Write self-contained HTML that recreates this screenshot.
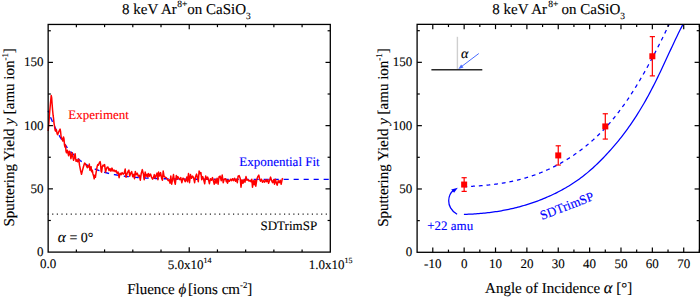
<!DOCTYPE html>
<html><head><meta charset="utf-8"><style>
html,body{margin:0;padding:0;background:#fff;}
svg{display:block;font-family:"Liberation Serif",serif;text-rendering:geometricPrecision;}
text{stroke-width:0.12px;}
</style></head><body>
<svg width="700" height="297" viewBox="0 0 700 297">
<rect width="700" height="297" fill="#fff"/>
<line x1="47.5" y1="214.16" x2="327" y2="214.16" stroke="#222" stroke-width="1.2" stroke-dasharray="1.2 3.437"/>
<path d="M48.15,110.83 L48.65,112.2 L49.15,113.54 L49.65,114.85 L50.15,116.14 L50.65,117.4 L51.15,118.63 L51.65,119.84 L52.15,121.03 L52.65,122.19 L53.15,123.33 L53.65,124.45 L54.15,125.55 L54.65,126.62 L55.15,127.67 L55.65,128.7 L56.15,129.71 L56.65,130.7 L57.15,131.67 L57.65,132.62 L58.15,133.56 L58.65,134.47 L59.15,135.36 L59.65,136.24 L60.15,137.1 L60.65,137.94 L61.15,138.77 L61.65,139.58 L62.15,140.37 L62.65,141.15 L63.15,141.91 L63.65,142.66 L64.15,143.39 L64.65,144.11 L65.15,144.81 L65.65,145.5 L66.15,146.18 L66.65,146.84 L67.15,147.49 L67.65,148.12 L68.15,148.75 L68.65,149.36 L69.15,149.96 L69.65,150.54 L70.15,151.12 L70.65,151.68 L71.15,152.23 L71.65,152.77 L72.15,153.3 L72.65,153.82 L73.15,154.33 L73.65,154.83 L74.15,155.32 L74.65,155.8 L75.15,156.27 L75.65,156.73 L76.15,157.18 L76.65,157.63 L77.15,158.06 L77.65,158.49 L78.15,158.9 L78.65,159.31 L79.15,159.71 L79.65,160.1 L80.15,160.49 L80.65,160.86 L81.15,161.23 L81.65,161.59 L82.15,161.95 L82.65,162.3 L83.15,162.64 L83.65,162.97 L84.15,163.3 L84.65,163.62 L85.15,163.93 L85.65,164.24 L86.15,164.54 L86.65,164.84 L87.15,165.13 L87.65,165.41 L88.15,165.69 L88.65,165.96 L89.15,166.23 L89.65,166.49 L90.15,166.75 L90.65,167 L91.15,167.25 L91.65,167.49 L92.15,167.73 L92.65,167.96 L93.15,168.19 L93.65,168.41 L94.15,168.63 L94.65,168.84 L95.15,169.05 L95.65,169.26 L96.15,169.46 L96.65,169.66 L97.15,169.85 L97.65,170.04 L98.15,170.23 L98.65,170.41 L99.15,170.59 L99.65,170.76 L100.15,170.94 L100.65,171.1 L101.15,171.27 L101.65,171.43 L102.15,171.59 L102.65,171.75 L103.15,171.9 L103.65,172.05 L104.15,172.19 L104.65,172.34 L105.15,172.48 L105.65,172.61 L106.15,172.75 L106.65,172.88 L107.15,173.01 L107.65,173.14 L108.15,173.26 L108.65,173.38 L109.15,173.5 L109.65,173.62 L110.15,173.74 L110.65,173.85 L111.15,173.96 L111.65,174.07 L112.15,174.17 L112.65,174.28 L113.15,174.38 L113.65,174.48 L114.15,174.57 L114.65,174.67 L115.15,174.76 L115.65,174.86 L116.15,174.95 L116.65,175.03 L117.15,175.12 L117.65,175.21 L118.15,175.29 L118.65,175.37 L119.15,175.45 L119.65,175.53 L120.15,175.61 L120.65,175.68 L121.15,175.75 L121.65,175.83 L122.15,175.9 L122.65,175.97 L123.15,176.04 L123.65,176.1 L124.15,176.17 L124.65,176.23 L125.15,176.29 L125.65,176.36 L126.15,176.42 L126.65,176.47 L127.15,176.53 L127.65,176.59 L128.15,176.65 L128.65,176.7 L129.15,176.75 L129.65,176.81 L130.15,176.86 L130.65,176.91 L131.15,176.96 L131.65,177 L132.15,177.05 L132.65,177.1 L133.15,177.14 L133.65,177.19 L134.15,177.23 L134.65,177.27 L135.15,177.32 L135.65,177.36 L136.15,177.4 L136.65,177.44 L137.15,177.48 L137.65,177.51 L138.15,177.55 L138.65,177.59 L139.15,177.62 L139.65,177.66 L140.15,177.69 L140.65,177.73 L141.15,177.76 L141.65,177.79 L142.15,177.82 L142.65,177.85 L143.15,177.88 L143.65,177.91 L144.15,177.94 L144.65,177.97 L145.15,178 L145.65,178.03 L146.15,178.05 L146.65,178.08 L147.15,178.11 L147.65,178.13 L148.15,178.16 L148.65,178.18 L149.15,178.21 L149.65,178.23 L150.15,178.25 L150.65,178.27 L151.15,178.3 L151.65,178.32 L152.15,178.34 L152.65,178.36 L153.15,178.38 L153.65,178.4 L154.15,178.42 L154.65,178.44 L155.15,178.46 L155.65,178.48 L156.15,178.49 L156.65,178.51 L157.15,178.53 L157.65,178.55 L158.15,178.56 L158.65,178.58 L159.15,178.59 L159.65,178.61 L160.15,178.63 L160.65,178.64 L161.15,178.65 L161.65,178.67 L162.15,178.68 L162.65,178.7 L163.15,178.71 L163.65,178.72 L164.15,178.74 L164.65,178.75 L165.15,178.76 L165.65,178.77 L166.15,178.79 L166.65,178.8 L167.15,178.81 L167.65,178.82 L168.15,178.83 L168.65,178.84 L169.15,178.85 L169.65,178.86 L170.15,178.87 L170.65,178.88 L171.15,178.89 L171.65,178.9 L172.15,178.91 L172.65,178.92 L173.15,178.93 L173.65,178.94 L174.15,178.95 L174.65,178.96 L175.15,178.97 L175.65,178.97 L176.15,178.98 L176.65,178.99 L177.15,179 L177.65,179.01 L178.15,179.01 L178.65,179.02 L179.15,179.03 L179.65,179.04 L180.15,179.04 L180.65,179.05 L181.15,179.06 L181.65,179.06 L182.15,179.07 L182.65,179.07 L183.15,179.08 L183.65,179.09 L184.15,179.09 L184.65,179.1 L185.15,179.1 L185.65,179.11 L186.15,179.11 L186.65,179.12 L187.15,179.12 L187.65,179.13 L188.15,179.13 L188.65,179.14 L189.15,179.14 L189.65,179.15 L190.15,179.15 L190.65,179.16 L191.15,179.16 L191.65,179.17 L192.15,179.17 L192.65,179.18 L193.15,179.18 L193.65,179.18 L194.15,179.19 L194.65,179.19 L195.15,179.19 L195.65,179.2 L196.15,179.2 L196.65,179.21 L197.15,179.21 L197.65,179.21 L198.15,179.22 L198.65,179.22 L199.15,179.22 L199.65,179.22 L200.15,179.23 L200.65,179.23 L201.15,179.23 L201.65,179.24 L202.15,179.24 L202.65,179.24 L203.15,179.25 L203.65,179.25 L204.15,179.25 L204.65,179.25 L205.15,179.26 L205.65,179.26 L206.15,179.26 L206.65,179.26 L207.15,179.27 L207.65,179.27 L208.15,179.27 L208.65,179.27 L209.15,179.27 L209.65,179.28 L210.15,179.28 L210.65,179.28 L211.15,179.28 L211.65,179.28 L212.15,179.29 L212.65,179.29 L213.15,179.29 L213.65,179.29 L214.15,179.29 L214.65,179.29 L215.15,179.3 L215.65,179.3 L216.15,179.3 L216.65,179.3 L217.15,179.3 L217.65,179.3 L218.15,179.31 L218.65,179.31 L219.15,179.31 L219.65,179.31 L220.15,179.31 L220.65,179.31 L221.15,179.31 L221.65,179.32 L222.15,179.32 L222.65,179.32 L223.15,179.32 L223.65,179.32 L224.15,179.32 L224.65,179.32 L225.15,179.32 L225.65,179.32 L226.15,179.33 L226.65,179.33 L227.15,179.33 L227.65,179.33 L228.15,179.33 L228.65,179.33 L229.15,179.33 L229.65,179.33 L230.15,179.33 L230.65,179.33 L231.15,179.34 L231.65,179.34 L232.15,179.34 L232.65,179.34 L233.15,179.34 L233.65,179.34 L234.15,179.34 L234.65,179.34 L235.15,179.34 L235.65,179.34 L236.15,179.34 L236.65,179.34 L237.15,179.34 L237.65,179.35 L238.15,179.35 L238.65,179.35 L239.15,179.35 L239.65,179.35 L240.15,179.35 L240.65,179.35 L241.15,179.35 L241.65,179.35 L242.15,179.35 L242.65,179.35 L243.15,179.35 L243.65,179.35 L244.15,179.35 L244.65,179.35 L245.15,179.35 L245.65,179.35 L246.15,179.35 L246.65,179.36 L247.15,179.36 L247.65,179.36 L248.15,179.36 L248.65,179.36 L249.15,179.36 L249.65,179.36 L250.15,179.36 L250.65,179.36 L251.15,179.36 L251.65,179.36 L252.15,179.36 L252.65,179.36 L253.15,179.36 L253.65,179.36 L254.15,179.36 L254.65,179.36 L255.15,179.36 L255.65,179.36 L256.15,179.36 L256.65,179.36 L257.15,179.36 L257.65,179.36 L258.15,179.36 L258.65,179.36 L259.15,179.36 L259.65,179.36 L260.15,179.37 L260.65,179.37 L261.15,179.37 L261.65,179.37 L262.15,179.37 L262.65,179.37 L263.15,179.37 L263.65,179.37 L264.15,179.37 L264.65,179.37 L265.15,179.37 L265.65,179.37 L266.15,179.37 L266.65,179.37 L267.15,179.37 L267.65,179.37 L268.15,179.37 L268.65,179.37 L269.15,179.37 L269.65,179.37 L270.15,179.37 L270.65,179.37 L271.15,179.37 L271.65,179.37 L272.15,179.37 L272.65,179.37 L273.15,179.37 L273.65,179.37 L274.15,179.37 L274.65,179.37 L275.15,179.37 L275.65,179.37 L276.15,179.37 L276.65,179.37 L277.15,179.37 L277.65,179.37 L278.15,179.37 L278.65,179.37 L279.15,179.37 L279.65,179.37 L280.15,179.37 L280.65,179.37 L281.15,179.37 L281.65,179.37 L282.15,179.37 L282.65,179.37 L283.15,179.37 L283.65,179.37 L284.15,179.37 L284.65,179.37 L285.15,179.37 L285.65,179.37 L286.15,179.37 L286.65,179.37 L287.15,179.37 L287.65,179.37 L288.15,179.37 L288.65,179.37 L289.15,179.37 L289.65,179.37 L290.15,179.37 L290.65,179.37 L291.15,179.37 L291.65,179.37 L292.15,179.37 L292.65,179.37 L293.15,179.37 L293.65,179.37 L294.15,179.38 L294.65,179.38 L295.15,179.38 L295.65,179.38 L296.15,179.38 L296.65,179.38 L297.15,179.38 L297.65,179.38 L298.15,179.38 L298.65,179.38 L299.15,179.38 L299.65,179.38 L300.15,179.38 L300.65,179.38 L301.15,179.38 L301.65,179.38 L302.15,179.38 L302.65,179.38 L303.15,179.38 L303.65,179.38 L304.15,179.38 L304.65,179.38 L305.15,179.38 L305.65,179.38 L306.15,179.38 L306.65,179.38 L307.15,179.38 L307.65,179.38 L308.15,179.38 L308.65,179.38 L309.15,179.38 L309.65,179.38 L310.15,179.38 L310.65,179.38 L311.15,179.38 L311.65,179.38 L312.15,179.38 L312.65,179.38 L313.15,179.38 L313.65,179.38 L314.15,179.38 L314.65,179.38 L315.15,179.38 L315.65,179.38 L316.15,179.38 L316.65,179.38 L317.15,179.38 L317.65,179.38 L318.15,179.38 L318.65,179.38 L319.15,179.38 L319.65,179.38 L320.15,179.38 L320.65,179.38 L321.15,179.38 L321.65,179.38 L322.15,179.38 L322.65,179.38 L323.15,179.38 L323.65,179.38 L324.15,179.38 L324.65,179.38 L325.15,179.38 L325.65,179.38 L326.15,179.38 L326.65,179.38 L327.15,179.38 L327.65,179.38 L328.15,179.38 L328.65,179.38 L329.15,179.38 L329.65,179.38 L330,179.38" fill="none" stroke="#00f" stroke-width="1.35" stroke-dasharray="5.1 4.9" stroke-dashoffset="3.24"/>
<path d="M48.2,131 L49,121 L49.6,113 L50.4,104 L51.2,95.5 L51.7,98 L52.1,104 L52.6,110.2 L53.1,115.2 L53.5,118 L54,123.1 L54.5,126.1 L55.1,130.2 L55.6,131.2 L56.3,129.6 L57.1,133.7 L57.6,134.7 L58.6,132.2 L59.6,130.2 L60.1,129.1 L60.6,131.7 L61.1,136.7 L62.1,139.2 L62.8,141.1 L63.5,137 L64,139 L64.5,145.1 L65,147.1 L65.5,145.1 L66,151.2 L66.5,152.7 L67.3,150.2 L67.9,152.7 L68.6,155.7 L69.3,151.2 L70.1,152.7 L70.9,158.7 L71.6,155.2 L72.3,152.7 L72.9,157.2 L73.6,160.3 L74.3,157.7 L75.1,153.7 L75.6,158.2 L76.1,161.3 L77,159.7 L77.7,161.8 L78.4,160.3 L78.8,159.1 L79.5,165.2 L80.5,170.2 L81.5,174.2 L82.5,170.2 L83.6,166.2 L84.6,163.1 L85.6,164.1 L86.6,166.2 L87.3,167.7 L88.1,165.7 L88.9,167.2 L89.3,164.1 L89.9,170.2 L90.6,167.7 L91.1,166.7 L91.6,171.7 L92.3,170.2 L92.9,173.7 L93.7,176.3 L94.2,178.8 L94.7,175.3 L95.4,177.3 L96,173.2 L96.7,169.2 L97.2,166.2 L97.8,164.6 L98.5,165.1 L99.2,163.1 L100.1,161.6 L100.6,164.1 L101.1,171.2 L101.6,172.2 L102.3,166.6 L103.1,165.1 L103.9,166.1 L104.6,164.6 L105.1,168.7 L105.6,172.2 L106.3,169.2 L107.1,167.2 L108,167.1 L109,170.6 L110,168.6 L111,171.1 L112,168.1 L113,171.1 L114.1,170.1 L115.1,171.6 L116.1,170.6 L117.1,173.2 L118.1,172.1 L119.1,177.7 L120.1,173.2 L121.1,174.7 L122.1,172.6 L123.2,174.2 L124.2,173.2 L125.2,169.1 L126,177.2 L127.2,173.2 L128.2,171.1 L128.9,170.1 L129.7,176.2 L130.7,173.2 L131.7,171.6 L132.7,176.7 L133.8,174.2 L134.5,178.7 L135.3,171.6 L136.3,174.7 L137.3,173.2 L138.3,176.2 L139.3,175.2 L140.3,180.2 L141.3,173.2 L142.3,169.6 L143.4,174.2 L144.2,179.7 L145.2,172.1 L146.2,176.2 L147.4,174.2 L147.8,177.1 L148.5,173.6 L149.5,176.1 L150.5,174.1 L151.5,177.1 L152.6,179.2 L153.6,177.1 L154.3,174.6 L155.1,178.2 L156.1,175.6 L157.1,173.1 L157.9,179.7 L158.6,172.1 L159.6,176.1 L160.6,172.6 L161.6,178.2 L162.4,180.2 L163.2,171.1 L164,176.1 L165,177.1 L166.2,177.6 L167.2,179.2 L168.2,180.7 L169.2,179.7 L170,183.2 L170.8,176.1 L171.7,184.2 L172.8,178.2 L173.5,174.6 L174.3,180.7 L175.3,184.2 L176.3,175.6 L177.1,179.2 L177.8,176.6 L178.8,178.2 L179.8,179.7 L180.8,177.6 L181.8,182.7 L182.9,178.2 L183.9,178.7 L185.2,181.7 L186,180.2 L186.8,177.1 L187.5,181.7 L188.5,173.6 L189.5,182.7 L190.5,174.6 L191.6,178.2 L192.6,176.1 L193.6,177.6 L194.6,182.7 L195.6,176.6 L196.6,174.1 L197.6,178.2 L198.3,181.7 L199.1,171.1 L200.1,173.6 L200.9,172.6 L201.7,179.7 L202.7,176.6 L203.7,179.7 L204.7,183.7 L205.7,176.1 L206.7,179.2 L207.7,177.1 L208.7,180.7 L209.4,183.7 L210.4,178.7 L211.5,180.2 L212.5,177.6 L213.5,181.2 L214.3,184.2 L215.3,179.2 L216.1,183.2 L217.1,178.2 L218.1,184.2 L219.1,176.6 L220.1,176.1 L221.2,180.7 L222.2,175.1 L223.2,182.7 L224.2,179.2 L225.6,178.7 L226.3,181.7 L226.8,179.7 L227.5,183.2 L228.5,180.2 L229.5,181.2 L230.6,179.2 L231.6,180.7 L232.6,178.7 L233.6,180.7 L234.6,178.2 L235.6,181.2 L236.6,179.2 L237.3,182.7 L238.1,176.1 L239.1,175.6 L240.2,178.2 L241,187.2 L242,179.7 L243,183.2 L244,179.7 L245,182.2 L246,176.6 L247,180.2 L248,179.7 L249,181.2 L250,180.2 L251.1,181.7 L251.8,179.2 L252.5,187.2 L253.5,180.7 L254.3,184.7 L255.1,180.2 L255.8,186.2 L256.8,179.7 L257.8,176.6 L258.8,175.1 L259.8,179.7 L260.5,181.2 L261.5,179.2 L262.5,182.2 L263.6,180.7 L264.6,182.2 L265.6,179.7 L266.6,181.7 L267.6,179.7 L268.6,183.2 L269.6,180.2 L270.6,177.1 L271.6,180.7 L272.6,182.7 L273.7,179.7 L274.5,184.2 L275.4,179.2 L276.4,183.2 L277.2,185.2 L278.2,180.7 L279.2,182.7 L280.2,180.2 L281.2,184.2 L282.2,179.2 L282.7,178.2" fill="none" stroke="#f00" stroke-width="1.5" stroke-linejoin="round"/>
<line x1="48.15" y1="220.48" x2="50.85" y2="220.48" stroke="#000" stroke-width="1.2" />
<line x1="330.3" y1="220.48" x2="327.6" y2="220.48" stroke="#000" stroke-width="1.2" />
<line x1="48.15" y1="188.86" x2="52.95" y2="188.86" stroke="#000" stroke-width="1.2" />
<line x1="330.3" y1="188.86" x2="325.5" y2="188.86" stroke="#000" stroke-width="1.2" />
<line x1="48.15" y1="157.25" x2="50.85" y2="157.25" stroke="#000" stroke-width="1.2" />
<line x1="330.3" y1="157.25" x2="327.6" y2="157.25" stroke="#000" stroke-width="1.2" />
<line x1="48.15" y1="125.63" x2="52.95" y2="125.63" stroke="#000" stroke-width="1.2" />
<line x1="330.3" y1="125.63" x2="325.5" y2="125.63" stroke="#000" stroke-width="1.2" />
<line x1="48.15" y1="94.01" x2="50.85" y2="94.01" stroke="#000" stroke-width="1.2" />
<line x1="330.3" y1="94.01" x2="327.6" y2="94.01" stroke="#000" stroke-width="1.2" />
<line x1="48.15" y1="62.39" x2="52.95" y2="62.39" stroke="#000" stroke-width="1.2" />
<line x1="330.3" y1="62.39" x2="325.5" y2="62.39" stroke="#000" stroke-width="1.2" />
<line x1="48.15" y1="30.77" x2="50.85" y2="30.77" stroke="#000" stroke-width="1.2" />
<line x1="330.3" y1="30.77" x2="327.6" y2="30.77" stroke="#000" stroke-width="1.2" />
<line x1="189.23" y1="252.1" x2="189.23" y2="247.3" stroke="#000" stroke-width="1.2" />
<line x1="189.23" y1="24.45" x2="189.23" y2="29.25" stroke="#000" stroke-width="1.2" />
<line x1="76.37" y1="252.1" x2="76.37" y2="249.4" stroke="#000" stroke-width="1.2" />
<line x1="76.37" y1="24.45" x2="76.37" y2="27.15" stroke="#000" stroke-width="1.2" />
<line x1="104.58" y1="252.1" x2="104.58" y2="249.4" stroke="#000" stroke-width="1.2" />
<line x1="104.58" y1="24.45" x2="104.58" y2="27.15" stroke="#000" stroke-width="1.2" />
<line x1="132.8" y1="252.1" x2="132.8" y2="249.4" stroke="#000" stroke-width="1.2" />
<line x1="132.8" y1="24.45" x2="132.8" y2="27.15" stroke="#000" stroke-width="1.2" />
<line x1="161.01" y1="252.1" x2="161.01" y2="249.4" stroke="#000" stroke-width="1.2" />
<line x1="161.01" y1="24.45" x2="161.01" y2="27.15" stroke="#000" stroke-width="1.2" />
<line x1="217.44" y1="252.1" x2="217.44" y2="249.4" stroke="#000" stroke-width="1.2" />
<line x1="217.44" y1="24.45" x2="217.44" y2="27.15" stroke="#000" stroke-width="1.2" />
<line x1="245.66" y1="252.1" x2="245.66" y2="249.4" stroke="#000" stroke-width="1.2" />
<line x1="245.66" y1="24.45" x2="245.66" y2="27.15" stroke="#000" stroke-width="1.2" />
<line x1="273.87" y1="252.1" x2="273.87" y2="249.4" stroke="#000" stroke-width="1.2" />
<line x1="273.87" y1="24.45" x2="273.87" y2="27.15" stroke="#000" stroke-width="1.2" />
<line x1="302.09" y1="252.1" x2="302.09" y2="249.4" stroke="#000" stroke-width="1.2" />
<line x1="302.09" y1="24.45" x2="302.09" y2="27.15" stroke="#000" stroke-width="1.2" />
<rect x="48.15" y="24.45" width="282.15" height="227.65" fill="none" stroke="#000" stroke-width="1.3"/>
<line x1="457.4" y1="36.8" x2="457.4" y2="69.5" stroke="#cfcfcf" stroke-width="1.4"/>
<line x1="431.4" y1="69.8" x2="482.3" y2="69.8" stroke="#2a2a2a" stroke-width="1.5"/>
<line x1="478.8" y1="53.5" x2="461.5" y2="66.6" stroke="#4a6cff" stroke-width="1"/>
<path d="M458.3,69 L461.1,64.4 L463.5,67.6 Z" fill="#4a6cff"/>
<path d="M464.15,186.64 L464.65,186.62 L465.15,186.61 L465.65,186.59 L466.15,186.57 L466.65,186.55 L467.15,186.53 L467.65,186.51 L468.15,186.49 L468.65,186.47 L469.15,186.44 L469.65,186.42 L470.15,186.4 L470.65,186.37 L471.15,186.35 L471.65,186.32 L472.15,186.3 L472.65,186.27 L473.15,186.24 L473.65,186.21 L474.15,186.18 L474.65,186.15 L475.15,186.12 L475.65,186.09 L476.15,186.06 L476.65,186.03 L477.15,185.99 L477.65,185.96 L478.15,185.93 L478.65,185.89 L479.15,185.85 L479.65,185.82 L480.15,185.78 L480.65,185.74 L481.15,185.7 L481.65,185.66 L482.15,185.62 L482.65,185.58 L483.15,185.53 L483.65,185.49 L484.15,185.45 L484.65,185.4 L485.15,185.35 L485.65,185.31 L486.15,185.26 L486.65,185.21 L487.15,185.16 L487.65,185.11 L488.15,185.06 L488.65,185 L489.15,184.95 L489.65,184.9 L490.15,184.84 L490.65,184.78 L491.15,184.73 L491.65,184.67 L492.15,184.61 L492.65,184.55 L493.15,184.49 L493.65,184.42 L494.15,184.36 L494.65,184.29 L495.15,184.23 L495.65,184.16 L496.15,184.09 L496.65,184.02 L497.15,183.95 L497.65,183.88 L498.15,183.81 L498.65,183.74 L499.15,183.66 L499.65,183.59 L500.15,183.51 L500.65,183.43 L501.15,183.35 L501.65,183.27 L502.15,183.19 L502.65,183.11 L503.15,183.03 L503.65,182.94 L504.15,182.85 L504.65,182.77 L505.15,182.68 L505.65,182.59 L506.15,182.5 L506.65,182.41 L507.15,182.31 L507.65,182.22 L508.15,182.12 L508.65,182.02 L509.15,181.92 L509.65,181.82 L510.15,181.72 L510.65,181.62 L511.15,181.52 L511.65,181.41 L512.15,181.3 L512.65,181.2 L513.15,181.09 L513.65,180.98 L514.15,180.86 L514.65,180.75 L515.15,180.63 L515.65,180.52 L516.15,180.4 L516.65,180.28 L517.15,180.16 L517.65,180.04 L518.15,179.91 L518.65,179.79 L519.15,179.66 L519.65,179.54 L520.15,179.41 L520.65,179.27 L521.15,179.14 L521.65,179.01 L522.15,178.87 L522.65,178.74 L523.15,178.6 L523.65,178.46 L524.15,178.32 L524.65,178.17 L525.15,178.03 L525.65,177.88 L526.15,177.73 L526.65,177.58 L527.15,177.43 L527.65,177.28 L528.15,177.13 L528.65,176.97 L529.15,176.81 L529.65,176.65 L530.15,176.49 L530.65,176.33 L531.15,176.16 L531.65,176 L532.15,175.83 L532.65,175.66 L533.15,175.49 L533.65,175.32 L534.15,175.14 L534.65,174.97 L535.15,174.79 L535.65,174.61 L536.15,174.43 L536.65,174.24 L537.15,174.06 L537.65,173.87 L538.15,173.68 L538.65,173.49 L539.15,173.3 L539.65,173.1 L540.15,172.91 L540.65,172.71 L541.15,172.51 L541.65,172.31 L542.15,172.11 L542.65,171.9 L543.15,171.69 L543.65,171.48 L544.15,171.27 L544.65,171.06 L545.15,170.85 L545.65,170.63 L546.15,170.41 L546.65,170.19 L547.15,169.97 L547.65,169.74 L548.15,169.52 L548.65,169.29 L549.15,169.06 L549.65,168.82 L550.15,168.59 L550.65,168.35 L551.15,168.11 L551.65,167.87 L552.15,167.63 L552.65,167.39 L553.15,167.14 L553.65,166.89 L554.15,166.64 L554.65,166.39 L555.15,166.13 L555.65,165.88 L556.15,165.62 L556.65,165.35 L557.15,165.09 L557.65,164.83 L558.15,164.56 L558.65,164.29 L559.15,164.02 L559.65,163.74 L560.15,163.46 L560.65,163.19 L561.15,162.91 L561.65,162.62 L562.15,162.34 L562.65,162.05 L563.15,161.76 L563.65,161.47 L564.15,161.17 L564.65,160.88 L565.15,160.58 L565.65,160.28 L566.15,159.97 L566.65,159.67 L567.15,159.36 L567.65,159.05 L568.15,158.74 L568.65,158.42 L569.15,158.11 L569.65,157.79 L570.15,157.46 L570.65,157.14 L571.15,156.81 L571.65,156.49 L572.15,156.15 L572.65,155.82 L573.15,155.48 L573.65,155.15 L574.15,154.8 L574.65,154.46 L575.15,154.11 L575.65,153.77 L576.15,153.42 L576.65,153.06 L577.15,152.71 L577.65,152.35 L578.15,151.99 L578.65,151.62 L579.15,151.26 L579.65,150.89 L580.15,150.52 L580.65,150.15 L581.15,149.77 L581.65,149.39 L582.15,149.01 L582.65,148.63 L583.15,148.24 L583.65,147.85 L584.15,147.46 L584.65,147.07 L585.15,146.67 L585.65,146.27 L586.15,145.87 L586.65,145.46 L587.15,145.05 L587.65,144.64 L588.15,144.23 L588.65,143.81 L589.15,143.39 L589.65,142.97 L590.15,142.54 L590.65,142.11 L591.15,141.68 L591.65,141.24 L592.15,140.8 L592.65,140.36 L593.15,139.91 L593.65,139.46 L594.15,139.01 L594.65,138.55 L595.15,138.09 L595.65,137.63 L596.15,137.16 L596.65,136.69 L597.15,136.22 L597.65,135.74 L598.15,135.26 L598.65,134.78 L599.15,134.29 L599.65,133.8 L600.15,133.3 L600.65,132.8 L601.15,132.3 L601.65,131.79 L602.15,131.28 L602.65,130.76 L603.15,130.25 L603.65,129.72 L604.15,129.19 L604.65,128.66 L605.15,128.13 L605.65,127.59 L606.15,127.04 L606.65,126.5 L607.15,125.95 L607.65,125.39 L608.15,124.83 L608.65,124.26 L609.15,123.7 L609.65,123.12 L610.15,122.54 L610.65,121.96 L611.15,121.38 L611.65,120.79 L612.15,120.19 L612.65,119.59 L613.15,118.99 L613.65,118.38 L614.15,117.77 L614.65,117.15 L615.15,116.53 L615.65,115.91 L616.15,115.28 L616.65,114.64 L617.15,114 L617.65,113.36 L618.15,112.71 L618.65,112.06 L619.15,111.4 L619.65,110.74 L620.15,110.08 L620.65,109.4 L621.15,108.73 L621.65,108.05 L622.15,107.36 L622.65,106.67 L623.15,105.98 L623.65,105.28 L624.15,104.58 L624.65,103.87 L625.15,103.16 L625.65,102.44 L626.15,101.72 L626.65,100.99 L627.15,100.26 L627.65,99.52 L628.15,98.78 L628.65,98.03 L629.15,97.28 L629.65,96.52 L630.15,95.76 L630.65,95 L631.15,94.23 L631.65,93.46 L632.15,92.68 L632.65,91.9 L633.15,91.11 L633.65,90.32 L634.15,89.52 L634.65,88.72 L635.15,87.92 L635.65,87.11 L636.15,86.3 L636.65,85.48 L637.15,84.66 L637.65,83.83 L638.15,83 L638.65,82.17 L639.15,81.33 L639.65,80.49 L640.15,79.64 L640.65,78.79 L641.15,77.93 L641.65,77.08 L642.15,76.21 L642.65,75.35 L643.15,74.48 L643.65,73.6 L644.15,72.72 L644.65,71.84 L645.15,70.95 L645.65,70.06 L646.15,69.17 L646.65,68.27 L647.15,67.37 L647.65,66.47 L648.15,65.56 L648.65,64.64 L649.15,63.73 L649.65,62.81 L650.15,61.89 L650.65,60.96 L651.15,60.03 L651.65,59.09 L652.15,58.16 L652.65,57.21 L653.15,56.27 L653.65,55.32 L654.15,54.37 L654.65,53.41 L655.15,52.46 L655.65,51.49 L656.15,50.53 L656.65,49.56 L657.15,48.59 L657.65,47.61 L658.15,46.64 L658.65,45.65 L659.15,44.67 L659.65,43.68 L660.15,42.69 L660.65,41.7 L661.15,40.7 L661.65,39.7 L662.15,38.7 L662.65,37.69 L663.15,36.68 L663.65,35.67 L664.15,34.65 L664.65,33.64 L665.15,32.61 L665.65,31.59 L666.15,30.56 L666.65,29.53 L667.15,28.5 L667.65,27.47 L668.15,26.43 L668.65,25.39 L669.15,24.35" fill="none" stroke="#00f" stroke-width="1.25" stroke-dasharray="3.8 3.92" stroke-dashoffset="0.76"/>
<path d="M463.9,214.37 L465.4,214.33 L466.9,214.28 L468.4,214.22 L469.9,214.16 L471.4,214.09 L472.9,214.01 L474.4,213.92 L475.9,213.82 L477.4,213.72 L478.9,213.6 L480.4,213.48 L481.9,213.35 L483.4,213.21 L484.9,213.06 L486.4,212.9 L487.9,212.73 L489.4,212.55 L490.9,212.36 L492.4,212.16 L493.9,211.95 L495.4,211.74 L496.9,211.51 L498.4,211.27 L499.9,211.02 L501.4,210.76 L502.9,210.49 L504.4,210.21 L505.9,209.92 L507.4,209.61 L508.9,209.3 L510.4,208.97 L511.9,208.64 L513.4,208.29 L514.9,207.93 L516.4,207.56 L517.9,207.17 L519.4,206.78 L520.9,206.37 L522.4,205.95 L523.9,205.51 L525.4,205.07 L526.9,204.61 L528.4,204.14 L529.9,203.66 L531.4,203.16 L532.9,202.65 L534.4,202.12 L535.9,201.59 L537.4,201.04 L538.9,200.47 L540.4,199.89 L541.9,199.3 L543.4,198.69 L544.9,198.07 L546.4,197.44 L547.9,196.79 L549.4,196.13 L550.9,195.45 L552.4,194.75 L553.9,194.04 L555.4,193.32 L556.9,192.57 L558.4,191.81 L559.9,191.03 L561.4,190.23 L562.9,189.41 L564.4,188.57 L565.9,187.71 L567.4,186.83 L568.9,185.93 L570.4,185 L571.9,184.05 L573.4,183.08 L574.9,182.08 L576.4,181.05 L577.9,180 L579.4,178.93 L580.9,177.82 L582.4,176.69 L583.9,175.53 L585.4,174.34 L586.9,173.12 L588.4,171.87 L589.9,170.59 L591.4,169.28 L592.9,167.93 L594.4,166.56 L595.9,165.16 L597.4,163.72 L598.9,162.26 L600.4,160.77 L601.9,159.26 L603.4,157.71 L604.9,156.14 L606.4,154.55 L607.9,152.93 L609.4,151.28 L610.9,149.61 L612.4,147.91 L613.9,146.18 L615.4,144.42 L616.9,142.63 L618.4,140.8 L619.9,138.94 L621.4,137.05 L622.9,135.11 L624.4,133.14 L625.9,131.13 L627.4,129.07 L628.9,126.97 L630.4,124.83 L631.9,122.65 L633.4,120.41 L634.9,118.14 L636.4,115.81 L637.9,113.44 L639.4,111.02 L640.9,108.55 L642.4,106.03 L643.9,103.46 L645.4,100.83 L646.9,98.16 L648.4,95.43 L649.9,92.65 L651.4,89.81 L652.9,86.91 L654.4,83.96 L655.9,80.96 L657.4,77.9 L658.9,74.81 L660.4,71.67 L661.9,68.49 L663.4,65.29 L664.9,62.07 L666.4,58.84 L667.9,55.59 L669.4,52.35 L670.9,49.12 L672.4,45.9 L673.9,42.7 L675.4,39.54 L676.9,36.42 L678.4,33.34 L679.9,30.32 L681.4,27.36 L683,24.35" fill="none" stroke="#00f" stroke-width="1.25"/>
<path d="M457.1,214.2 C451,211 448.6,205 448.7,200.7 C448.8,196 450.5,192.5 453.5,190.2" fill="none" stroke="#00f" stroke-width="1.25"/>
<path d="M457.8,187.7 L451.2,189.4 L454.1,192.7 Z" fill="#00f"/>
<line x1="464.15" y1="177.71" x2="464.15" y2="191.39" stroke="#f00" stroke-width="1.2" />
<line x1="461.55" y1="177.71" x2="466.75" y2="177.71" stroke="#f00" stroke-width="1.2" />
<line x1="461.55" y1="191.39" x2="466.75" y2="191.39" stroke="#f00" stroke-width="1.2" />
<rect x="461.15" y="181.55" width="6" height="6" fill="#f00"/>
<line x1="558.25" y1="145.8" x2="558.25" y2="165.05" stroke="#f00" stroke-width="1.2" />
<line x1="555.65" y1="145.8" x2="560.85" y2="145.8" stroke="#f00" stroke-width="1.2" />
<line x1="555.65" y1="165.05" x2="560.85" y2="165.05" stroke="#f00" stroke-width="1.2" />
<rect x="555.25" y="152.42" width="6" height="6" fill="#f00"/>
<line x1="605.3" y1="113.76" x2="605.3" y2="139.08" stroke="#f00" stroke-width="1.2" />
<line x1="602.7" y1="113.76" x2="607.9" y2="113.76" stroke="#f00" stroke-width="1.2" />
<line x1="602.7" y1="139.08" x2="607.9" y2="139.08" stroke="#f00" stroke-width="1.2" />
<rect x="602.3" y="123.42" width="6" height="6" fill="#f00"/>
<line x1="652.35" y1="36.63" x2="652.35" y2="75.89" stroke="#f00" stroke-width="1.2" />
<line x1="649.75" y1="36.63" x2="654.95" y2="36.63" stroke="#f00" stroke-width="1.2" />
<line x1="649.75" y1="75.89" x2="654.95" y2="75.89" stroke="#f00" stroke-width="1.2" />
<rect x="649.35" y="53.26" width="6" height="6" fill="#f00"/>
<line x1="417.1" y1="220.64" x2="419.8" y2="220.64" stroke="#000" stroke-width="1.2" />
<line x1="699.4" y1="220.64" x2="696.7" y2="220.64" stroke="#000" stroke-width="1.2" />
<line x1="417.1" y1="188.98" x2="421.9" y2="188.98" stroke="#000" stroke-width="1.2" />
<line x1="699.4" y1="188.98" x2="694.6" y2="188.98" stroke="#000" stroke-width="1.2" />
<line x1="417.1" y1="157.32" x2="419.8" y2="157.32" stroke="#000" stroke-width="1.2" />
<line x1="699.4" y1="157.32" x2="696.7" y2="157.32" stroke="#000" stroke-width="1.2" />
<line x1="417.1" y1="125.66" x2="421.9" y2="125.66" stroke="#000" stroke-width="1.2" />
<line x1="699.4" y1="125.66" x2="694.6" y2="125.66" stroke="#000" stroke-width="1.2" />
<line x1="417.1" y1="94" x2="419.8" y2="94" stroke="#000" stroke-width="1.2" />
<line x1="699.4" y1="94" x2="696.7" y2="94" stroke="#000" stroke-width="1.2" />
<line x1="417.1" y1="62.34" x2="421.9" y2="62.34" stroke="#000" stroke-width="1.2" />
<line x1="699.4" y1="62.34" x2="694.6" y2="62.34" stroke="#000" stroke-width="1.2" />
<line x1="417.1" y1="30.68" x2="419.8" y2="30.68" stroke="#000" stroke-width="1.2" />
<line x1="699.4" y1="30.68" x2="696.7" y2="30.68" stroke="#000" stroke-width="1.2" />
<line x1="432.78" y1="252.3" x2="432.78" y2="247.5" stroke="#000" stroke-width="1.2" />
<line x1="432.78" y1="24.35" x2="432.78" y2="29.15" stroke="#000" stroke-width="1.2" />
<line x1="464.15" y1="252.3" x2="464.15" y2="247.5" stroke="#000" stroke-width="1.2" />
<line x1="464.15" y1="24.35" x2="464.15" y2="29.15" stroke="#000" stroke-width="1.2" />
<line x1="495.52" y1="252.3" x2="495.52" y2="247.5" stroke="#000" stroke-width="1.2" />
<line x1="495.52" y1="24.35" x2="495.52" y2="29.15" stroke="#000" stroke-width="1.2" />
<line x1="526.88" y1="252.3" x2="526.88" y2="247.5" stroke="#000" stroke-width="1.2" />
<line x1="526.88" y1="24.35" x2="526.88" y2="29.15" stroke="#000" stroke-width="1.2" />
<line x1="558.25" y1="252.3" x2="558.25" y2="247.5" stroke="#000" stroke-width="1.2" />
<line x1="558.25" y1="24.35" x2="558.25" y2="29.15" stroke="#000" stroke-width="1.2" />
<line x1="589.62" y1="252.3" x2="589.62" y2="247.5" stroke="#000" stroke-width="1.2" />
<line x1="589.62" y1="24.35" x2="589.62" y2="29.15" stroke="#000" stroke-width="1.2" />
<line x1="620.98" y1="252.3" x2="620.98" y2="247.5" stroke="#000" stroke-width="1.2" />
<line x1="620.98" y1="24.35" x2="620.98" y2="29.15" stroke="#000" stroke-width="1.2" />
<line x1="652.35" y1="252.3" x2="652.35" y2="247.5" stroke="#000" stroke-width="1.2" />
<line x1="652.35" y1="24.35" x2="652.35" y2="29.15" stroke="#000" stroke-width="1.2" />
<line x1="683.72" y1="252.3" x2="683.72" y2="247.5" stroke="#000" stroke-width="1.2" />
<line x1="683.72" y1="24.35" x2="683.72" y2="29.15" stroke="#000" stroke-width="1.2" />
<line x1="448.47" y1="252.3" x2="448.47" y2="249.6" stroke="#000" stroke-width="1.2" />
<line x1="448.47" y1="24.35" x2="448.47" y2="27.05" stroke="#000" stroke-width="1.2" />
<line x1="479.83" y1="252.3" x2="479.83" y2="249.6" stroke="#000" stroke-width="1.2" />
<line x1="479.83" y1="24.35" x2="479.83" y2="27.05" stroke="#000" stroke-width="1.2" />
<line x1="511.2" y1="252.3" x2="511.2" y2="249.6" stroke="#000" stroke-width="1.2" />
<line x1="511.2" y1="24.35" x2="511.2" y2="27.05" stroke="#000" stroke-width="1.2" />
<line x1="542.57" y1="252.3" x2="542.57" y2="249.6" stroke="#000" stroke-width="1.2" />
<line x1="542.57" y1="24.35" x2="542.57" y2="27.05" stroke="#000" stroke-width="1.2" />
<line x1="573.93" y1="252.3" x2="573.93" y2="249.6" stroke="#000" stroke-width="1.2" />
<line x1="573.93" y1="24.35" x2="573.93" y2="27.05" stroke="#000" stroke-width="1.2" />
<line x1="605.3" y1="252.3" x2="605.3" y2="249.6" stroke="#000" stroke-width="1.2" />
<line x1="605.3" y1="24.35" x2="605.3" y2="27.05" stroke="#000" stroke-width="1.2" />
<line x1="636.67" y1="252.3" x2="636.67" y2="249.6" stroke="#000" stroke-width="1.2" />
<line x1="636.67" y1="24.35" x2="636.67" y2="27.05" stroke="#000" stroke-width="1.2" />
<line x1="668.03" y1="252.3" x2="668.03" y2="249.6" stroke="#000" stroke-width="1.2" />
<line x1="668.03" y1="24.35" x2="668.03" y2="27.05" stroke="#000" stroke-width="1.2" />
<line x1="699.4" y1="252.3" x2="699.4" y2="249.6" stroke="#000" stroke-width="1.2" />
<line x1="699.4" y1="24.35" x2="699.4" y2="27.05" stroke="#000" stroke-width="1.2" />
<rect x="417.1" y="24.35" width="282.3" height="227.95" fill="none" stroke="#000" stroke-width="1.3"/>
<text x="122" y="13.5" font-size="15" text-anchor="start" fill="#000" stroke="#000" >8 keV Ar<tspan font-size="9.5" dy="-6.2" dx="0.4">8+</tspan><tspan dy="6.2">on CaSiO</tspan><tspan font-size="9.5" dy="5.2">3</tspan></text>
<text x="492.3" y="13.5" font-size="15" text-anchor="start" fill="#000" stroke="#000" >8 keV Ar<tspan font-size="9.5" dy="-6.2" dx="1.2">8+</tspan><tspan dy="6.2" dx="-0.6"> on CaSiO</tspan><tspan font-size="9.5" dy="5.2">3</tspan></text>
<text x="43.45" y="256.15" font-size="13" text-anchor="end" fill="#000" stroke="#000" >0</text>
<text x="412.3" y="256.35" font-size="13" text-anchor="end" fill="#000" stroke="#000" >0</text>
<text x="43.45" y="192.91" font-size="13" text-anchor="end" fill="#000" stroke="#000" >50</text>
<text x="412.3" y="193.03" font-size="13" text-anchor="end" fill="#000" stroke="#000" >50</text>
<text x="43.45" y="129.68" font-size="13" text-anchor="end" fill="#000" stroke="#000" >100</text>
<text x="412.3" y="129.71" font-size="13" text-anchor="end" fill="#000" stroke="#000" >100</text>
<text x="43.45" y="66.44" font-size="13" text-anchor="end" fill="#000" stroke="#000" >150</text>
<text x="412.3" y="66.39" font-size="13" text-anchor="end" fill="#000" stroke="#000" >150</text>
<text x="48.15" y="267.6" font-size="13" text-anchor="middle" fill="#000" stroke="#000" >0.0</text>
<text x="189.53" y="268.6" font-size="13" text-anchor="middle" fill="#000" stroke="#000" >5.0x10<tspan font-size="8" dy="-5.8">14</tspan></text>
<text x="330.6" y="268.6" font-size="13" text-anchor="middle" fill="#000" stroke="#000" >1.0x10<tspan font-size="8" dy="-5.8">15</tspan></text>
<text x="432.78" y="267.8" font-size="13" text-anchor="middle" fill="#000" stroke="#000" >-10</text>
<text x="464.15" y="267.8" font-size="13" text-anchor="middle" fill="#000" stroke="#000" >0</text>
<text x="495.52" y="267.8" font-size="13" text-anchor="middle" fill="#000" stroke="#000" >10</text>
<text x="526.88" y="267.8" font-size="13" text-anchor="middle" fill="#000" stroke="#000" >20</text>
<text x="558.25" y="267.8" font-size="13" text-anchor="middle" fill="#000" stroke="#000" >30</text>
<text x="589.62" y="267.8" font-size="13" text-anchor="middle" fill="#000" stroke="#000" >40</text>
<text x="620.98" y="267.8" font-size="13" text-anchor="middle" fill="#000" stroke="#000" >50</text>
<text x="652.35" y="267.8" font-size="13" text-anchor="middle" fill="#000" stroke="#000" >60</text>
<text x="683.72" y="267.8" font-size="13" text-anchor="middle" fill="#000" stroke="#000" >70</text>
<text x="127.2" y="294" font-size="15" text-anchor="start" fill="#000" stroke="#000" >Fluence <tspan font-style="italic">ϕ</tspan><tspan dx="-2"> [ions cm</tspan><tspan font-size="8.8" dy="-6">-2</tspan><tspan dy="6">]</tspan></text>
<text x="485.1" y="293.1" font-size="15" text-anchor="start" fill="#000" stroke="#000" >Angle of Incidence <tspan font-style="italic" font-size="16.5">α</tspan> [°]</text>
<text transform="translate(14.3,226.6) rotate(-90)" font-size="15" stroke="#000">Sputtering Yield <tspan font-style="italic">y</tspan> [amu ion<tspan font-size="8.8" dy="-6">-1</tspan><tspan dy="6">]</tspan></text>
<text transform="translate(387.7,226.8) rotate(-90)" font-size="15" stroke="#000">Sputtering Yield <tspan font-style="italic">y</tspan> [amu ion<tspan font-size="8.8" dy="-6">-1</tspan><tspan dy="6">]</tspan></text>
<text x="68.3" y="118.6" font-size="13" text-anchor="start" fill="#f00" stroke="#f00" >Experiment</text>
<text x="239.2" y="165.9" font-size="13" text-anchor="start" fill="#00f" stroke="#00f" >Exponential Fit</text>
<text x="260.5" y="230" font-size="13" text-anchor="start" fill="#000" stroke="#000" >SDTrimSP</text>
<text x="57.8" y="241.6" font-size="14" text-anchor="start" fill="#000" stroke="#000" ><tspan font-style="italic" font-size="15.4">α</tspan> = 0°</text>
<text x="461" y="58" font-size="14.2" text-anchor="start" fill="#000" stroke="#000" font-style="italic">α</text>
<text x="427.2" y="229.5" font-size="13" text-anchor="start" fill="#00f" stroke="#00f" >+22 amu</text>
<text transform="translate(542,220) rotate(-21)" font-size="13" fill="#00f" stroke="#00f">SDTrimSP</text>
</svg>
</body></html>
